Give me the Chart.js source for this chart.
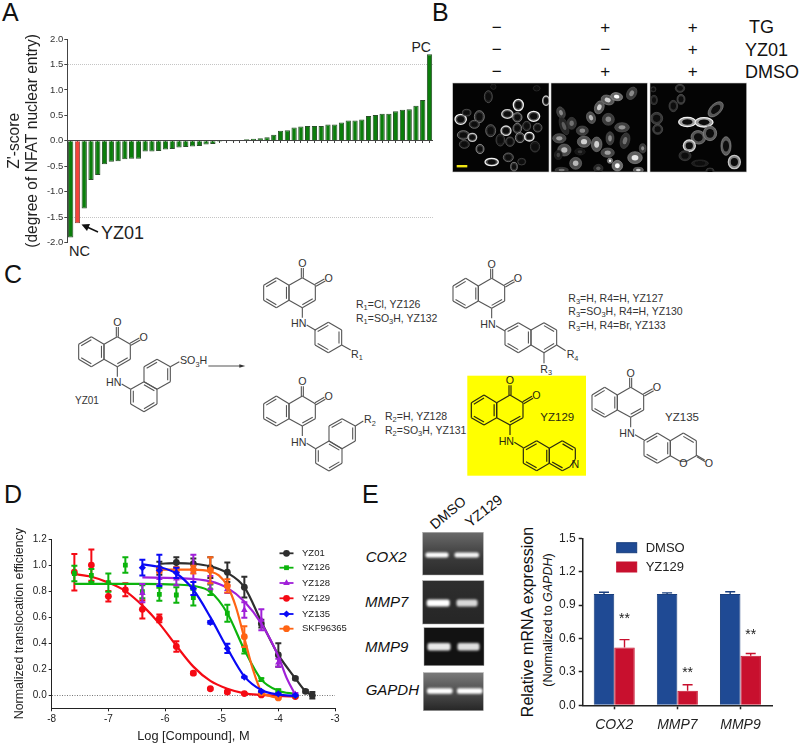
<!DOCTYPE html>
<html>
<head>
<meta charset="utf-8">
<style>
  body { margin: 0; background: #fff; overflow: hidden; }
  #page { position: relative; width: 800px; height: 744px; }
  #art { position: absolute; left: 0; top: 0; }
  canvas { position: absolute; }
</style>
<script src="https://cdn.jsdelivr.net/npm/chart.js@4"></script>
</head>
<body>
<div id="page">
  <svg id="art" width="800" height="744" font-family="Liberation Sans"></svg>
  <canvas id="chartA" width="440" height="222" style="left:0;top:30px"></canvas>
  <canvas id="chartD" width="355" height="224" style="left:0;top:520px"></canvas>
  <canvas id="chartE" width="270" height="219" style="left:520px;top:525px"></canvas>
</div>
<script>
// Panel A: screening z-scores, sorted
const screenValues = [-1.9, -1.62, -1.33, -0.77, -0.67, -0.46, -0.41, -0.4, -0.36, -0.35, -0.35, -0.21, -0.21, -0.2,
  -0.17, -0.16, -0.13, -0.12, -0.11, -0.1, -0.07, -0.06, -0.02, -0.01, -0.005, 0.01, 0.03, 0.04, 0.05, 0.07, 0.12,
  0.2, 0.21, 0.26, 0.28, 0.29, 0.29, 0.29, 0.32, 0.32, 0.36, 0.4, 0.4, 0.42, 0.49, 0.51, 0.53, 0.53, 0.58, 0.61,
  0.62, 0.69, 0.8, 1.7];
const screenTicks = [-2, -1.5, -1, -0.5, 0, 0.5, 1, 1.5, 2];
const screenLimits = [-1.5, 1.5];
const screenHighlight = 1; // YZ01

// Panel D: dose response, measured points
const yz01Dose = [-6.1, -5.8, -5.5, -5.2, -4.9, -4.6, -4.3, -4, -3.7, -3.52, -3.4];
const yz01Val = [0.975, 1.02, 1.01, 0.98, 0.945, 0.83, 0.55, 0.31, 0.13, 0.03, 0];
const yz01Err = [0.05, 0.04, 0.04, 0.08, 0.075, 0.08, 0.03, 0.09, 0.01, 0.01, 0.025];
const yz126Dose = [-7.6, -7.3, -7, -6.7, -6.4, -6.1, -5.8, -5.5, -5.2, -4.9, -4.6, -4.3, -4, -3.7];
const yz126Val = [0.935, 0.92, 0.865, 1, 0.795, 0.775, 0.77, 0.75, 0.81, 0.63, 0.35, 0.12, 0.035, 0];
const yz126Err = [0.06, 0.05, 0.07, 0.06, 0.05, 0.05, 0.06, 0.06, 0.04, 0.065, 0.03, 0.01, 0.01, 0.005];
const yz128Dose = [-6.4, -6.1, -5.8, -5.5, -5.2, -4.9, -4.6, -4.3, -4, -3.7];
const yz128Val = [0.785, 0.9, 0.895, 0.95, 0.865, 0.815, 0.655, 0.58, 0.25, 0.008];
const yz128Err = [0.07, 0.05, 0.05, 0.13, 0.05, 0.03, 0.06, 0.08, 0.03, 0.01];
const yz129Dose = [-7.6, -7.3, -7, -6.7, -6.4, -6.1, -5.8, -5.5, -5.2, -4.9, -4.6, -4.3, -4, -3.7];
const yz129Val = [0.945, 1, 0.76, 0.81, 0.66, 0.59, 0.375, 0.17, 0.05, 0.025, 0.013, 0.003, -0.005, -0.01];
const yz129Err = [0.14, 0.12, 0.04, 0.05, 0.07, 0.03, 0.04, 0.01, 0.005, 0.01, 0.005, 0.005, 0.005, 0.005];
const yz135Dose = [-6.4, -6.1, -5.8, -5.5, -5.2, -4.9, -4.6, -4.3, -4, -3.7];
const yz135Val = [0.98, 0.96, 0.94, 0.82, 0.56, 0.36, 0.14, 0.03, 0.01, 0];
const yz135Err = [0.06, 0.12, 0.04, 0.05, 0.01, 0.035, 0.005, 0.005, 0.005, 0.005];
const skfDose = [-6.1, -5.8, -5.5, -5.2, -4.9, -4.6, -4.3, -4];
const skfVal = [0.96, 0.965, 0.965, 0.96, 0.84, 0.45, 0.02, -0.02];
const skfErr = [0.02, 0.02, 0.03, 0.1, 0.05, 0.08, 0.01, 0.005];

// Panel D: fitted curves
const yz01FitDose = [-6.1, -5.8, -5.5, -5.2, -4.9, -4.6, -4.3, -4.1, -4, -3.7, -3.52, -3.4];
const yz01Fit = [1.01, 1.015, 1.01, 0.99, 0.94, 0.83, 0.565, 0.39, 0.31, 0.13, 0.03, 0];
const yz126FitDose = [-7.6, -7, -6.4, -5.8, -5.5, -5.2, -4.9, -4.6, -4.3, -4, -3.7];
const yz126Fit = [0.855, 0.855, 0.855, 0.85, 0.84, 0.795, 0.63, 0.35, 0.12, 0.035, 0.01];
const yz128FitDose = [-6.4, -5.8, -5.2, -4.9, -4.6, -4.3, -4, -3.85, -3.7];
const yz128Fit = [0.905, 0.9, 0.875, 0.825, 0.72, 0.55, 0.3, 0.13, 0.005];
const yz129FitDose = [-7.6, -7.3, -7, -6.7, -6.4, -6.1, -5.8, -5.5, -5.2, -4.9, -4.6, -4.3, -4, -3.7];
const yz129Fit = [0.93, 0.91, 0.865, 0.8, 0.69, 0.55, 0.38, 0.22, 0.11, 0.05, 0.015, 0.003, -0.005, -0.01];
const yz135FitDose = [-6.4, -6.1, -5.8, -5.5, -5.2, -4.9, -4.6, -4.3, -4, -3.7];
const yz135Fit = [1.005, 0.985, 0.935, 0.81, 0.6, 0.36, 0.145, 0.04, 0.005, -0.005];
const skfFitDose = [-6.1, -5.5, -5.2, -5.05, -4.9, -4.75, -4.6, -4.45, -4.3, -4.15, -4];
const skfFit = [0.965, 0.965, 0.95, 0.92, 0.84, 0.68, 0.44, 0.2, 0.03, -0.005, -0.02];
const doseTicks = [-8, -7, -6, -5, -4, -3];
const effectTicks = [0, 0.2, 0.4, 0.6, 0.8, 1, 1.2];

// Panel E: mRNA expression
const genes = ['COX2', 'MMP7', 'MMP9'];
const dmsoExpr = [1, 1, 1];
const dmsoExprErr = [0.015, 0.01, 0.02];
const yz129Expr = [0.52, 0.13, 0.445];
const yz129ExprErr = [0.07, 0.055, 0.02];
const starHeights = [0.79, 0.31, 0.65];
const exprTicks = [0, 0.3, 0.6, 0.9, 1.2, 1.5];

Chart.defaults.font.family = 'Liberation Sans';
Chart.defaults.animation = false;

// fixes the axis box so the plot area lands where the reference has it
function fitAxis(size) {
  return (s) => {
    if (s.isHorizontal()) s.height = size; else s.width = size;
    s.paddingLeft = s.paddingRight = s.paddingTop = s.paddingBottom = 0;
  };
}
function setTicks(values) {
  return (s) => { s.ticks = values.map((value) => ({ value })); };
}

// error bars, drawn just under their own dataset
const errorBars = {
  id: 'errorBars',
  beforeDatasetDraw(chart, args) {
    const ds = chart.data.datasets[args.index];
    if (!ds.errs) return;
    const y = chart.scales.y, c = chart.ctx;
    c.save();
    c.strokeStyle = ds.errColor;
    c.lineWidth = ds.errWidth;
    args.meta.data.forEach((el, i) => {
      const val = ds.data[i];
      const v = typeof val === 'object' ? val.y : val;
      const top = y.getPixelForValue(v + ds.errs[i]);
      const low = ds.topOnly ? y.getPixelForValue(v) : y.getPixelForValue(v - ds.errs[i]);
      c.beginPath();
      c.moveTo(el.x, top); c.lineTo(el.x, low);
      c.moveTo(el.x - ds.capSize, top); c.lineTo(el.x + ds.capSize, top);
      if (!ds.topOnly) { c.moveTo(el.x - ds.capSize, low); c.lineTo(el.x + ds.capSize, low); }
      c.stroke();
    });
    c.restore();
  }
};

// Panel A
new Chart(document.getElementById('chartA'), {
  type: 'bar',
  data: {
    labels: screenValues.map((v, i) => i + 1),
    datasets: [{
      data: screenValues,
      backgroundColor: screenValues.map((v, i) => (i === screenHighlight ? '#f2453a' : '#0b7d0b')),
      borderColor: screenValues.map((v, i) => (i === screenHighlight ? '#8a4a44' : '#2a4f2a')),
      borderWidth: 1,
      categoryPercentage: 0.78,
      barPercentage: 1
    }]
  },
  options: {
    responsive: false,
    layout: { padding: { left: 5, top: 9, right: 7.1, bottom: 9.3 } },
    plugins: { legend: { display: false }, tooltip: { enabled: false } },
    scales: {
      x: {
        position: { y: 0 },
        ticks: { display: false },
        grid: { drawOnChartArea: false, offset: false, tickLength: 2, tickColor: '#444' },
        border: { color: '#444', width: 1 },
        afterFit: fitAxis(0)
      },
      y: {
        min: -2, max: 2,
        afterBuildTicks: setTicks(screenTicks),
        afterFit: fitAxis(62.3),
        ticks: { color: '#333', font: { size: 9.5 }, padding: 1, callback: (v) => v.toFixed(1) },
        grid: {
          color: (ctx) => (screenLimits.includes(ctx.tick && ctx.tick.value) ? '#c4c4c4' : 'transparent'),
          tickColor: '#444', tickLength: 3
        },
        border: { color: '#444', width: 1, dash: [1, 1] },
        title: {
          display: true,
          text: ["Z'-score", '(degree of NFAT nuclear entry)'],
          color: '#222', font: { size: 15.6, lineHeight: 1.18 }, padding: 0
        }
      }
    }
  }
});

// Panel D
const doseSeries = [
  { label: 'YZ135', dose: yz135Dose, val: yz135Val, err: yz135Err, fitDose: yz135FitDose, fit: yz135Fit, color: '#0a0af5', marker: 'rectRot', size: 3.6, row: 4 },
  { label: 'SKF96365', dose: skfDose, val: skfVal, err: skfErr, fitDose: skfFitDose, fit: skfFit, color: '#ff6414', marker: 'circle', size: 3.4, row: 5 },
  { label: 'YZ128', dose: yz128Dose, val: yz128Val, err: yz128Err, fitDose: yz128FitDose, fit: yz128Fit, color: '#a020d8', marker: 'triangle', size: 3.8, row: 2 },
  { label: 'YZ126', dose: yz126Dose, val: yz126Val, err: yz126Err, fitDose: yz126FitDose, fit: yz126Fit, color: '#0cb40c', marker: 'rect', size: 3.4, row: 1 },
  { label: 'YZ129', dose: yz129Dose, val: yz129Val, err: yz129Err, fitDose: yz129FitDose, fit: yz129Fit, color: '#f50a14', marker: 'circle', size: 3.4, row: 3 },
  { label: 'YZ01', dose: yz01Dose, val: yz01Val, err: yz01Err, fitDose: yz01FitDose, fit: yz01Fit, color: '#2e2e2e', marker: 'circle', size: 3.4, row: 0 }
];
const doseDatasets = [];
doseSeries.forEach((s) => {
  doseDatasets.push({
    label: s.label + ' fit',
    data: s.fitDose.map((x, i) => ({ x, y: s.fit[i] })),
    showLine: true,
    cubicInterpolationMode: 'monotone',
    borderColor: s.color, borderWidth: 2.2, pointRadius: 0
  });
  doseDatasets.push({
    label: s.label,
    data: s.dose.map((x, i) => ({ x, y: s.val[i] })),
    showLine: false,
    pointStyle: s.marker, pointRadius: s.size,
    backgroundColor: s.color, borderColor: s.color, borderWidth: 0,
    errs: s.err, errColor: s.color, errWidth: 2, capSize: 3
  });
});

const doseLegend = {
  id: 'doseLegend',
  afterDraw(chart) {
    const c = chart.ctx;
    const rows = [553.3, 567.7, 583, 598.3, 614, 628.7];
    doseSeries.forEach((s) => {
      const y = rows[s.row] - 520;
      c.save();
      c.strokeStyle = s.color; c.lineWidth = 1.8;
      c.beginPath(); c.moveTo(279.5, y); c.lineTo(293.5, y); c.stroke();
      c.fillStyle = s.color; c.strokeStyle = s.color;
      Chart.helpers.drawPoint(c, { pointStyle: s.marker, radius: s.size, rotation: 0, borderWidth: 0 }, 286.5, y);
      c.fillStyle = '#222'; c.font = '9.5px "Liberation Sans"'; c.textBaseline = 'middle';
      c.fillText(s.label, 302, y);
      c.restore();
    });
  }
};

new Chart(document.getElementById('chartD'), {
  type: 'scatter',
  data: { datasets: doseDatasets },
  plugins: [errorBars, doseLegend],
  options: {
    responsive: false,
    layout: { padding: { left: 12, top: 19, right: 20, bottom: 0 } },
    plugins: { legend: { display: false }, tooltip: { enabled: false } },
    scales: {
      x: {
        type: 'linear', min: -8, max: -3,
        afterBuildTicks: setTicks(doseTicks),
        afterFit: fitAxis(35.7),
        ticks: { color: '#222', font: { size: 10 }, padding: 2, maxRotation: 0 },
        grid: { drawOnChartArea: false, tickColor: '#222', tickLength: 3 },
        border: { color: '#222', width: 1 },
        title: { display: true, text: 'Log [Compound], M', color: '#222', font: { size: 12.8 }, padding: { top: 2, bottom: 0 } }
      },
      y: {
        min: -0.1, max: 1.2,
        afterBuildTicks: setTicks(effectTicks),
        afterFit: fitAxis(39.7),
        ticks: { color: '#222', font: { size: 10 }, padding: 2, callback: (v) => v.toFixed(1) },
        grid: {
          color: (ctx) => (ctx.tick && ctx.tick.value === 0 ? '#777' : 'transparent'),
          tickColor: '#222', tickLength: 3
        },
        border: { color: '#222', width: 1, dash: [1, 1.5] },
        title: { display: true, text: 'Normalized translocation efficiency', color: '#222', font: { size: 12.4 }, padding: 0 }
      }
    }
  }
});

// Panel E
const exprExtras = {
  id: 'exprExtras',
  afterDraw(chart) {
    const c = chart.ctx;
    const bars = chart.getDatasetMeta(1).data;
    c.save();
    c.fillStyle = '#222'; c.font = '14px "Liberation Sans"'; c.textAlign = 'center'; c.textBaseline = 'middle';
    starHeights.forEach((h, i) => c.fillText('**', bars[i].x, chart.scales.y.getPixelForValue(h) + 2));
    c.textAlign = 'left';
    c.font = '13px "Liberation Sans"';
    chart.data.datasets.forEach((ds, i) => {
      const y = 17.7 + i * 19.3;
      c.fillStyle = ds.backgroundColor;
      c.strokeStyle = ds.borderColor;
      c.lineWidth = 1;
      c.fillRect(96.7, y, 20, 10);
      c.strokeRect(96.7, y, 20, 10);
      c.fillStyle = '#222';
      c.fillText(ds.label, 125.7, y + 5.5);
    });
    c.restore();
  }
};

new Chart(document.getElementById('chartE'), {
  type: 'bar',
  data: {
    labels: genes,
    datasets: [
      { label: 'DMSO', data: dmsoExpr, backgroundColor: '#1f4a94', borderColor: '#1a3f7e', borderWidth: 1,
        categoryPercentage: 0.65, barPercentage: 1,
        errs: dmsoExprErr, errColor: '#1a3f7e', errWidth: 1.4, capSize: 5, topOnly: true },
      { label: 'YZ129', data: yz129Expr, backgroundColor: '#c8102e', borderColor: '#c8102e', borderWidth: 1,
        categoryPercentage: 0.65, barPercentage: 1,
        errs: yz129ExprErr, errColor: '#c8102e', errWidth: 1.4, capSize: 5, topOnly: true }
    ]
  },
  plugins: [errorBars, exprExtras],
  options: {
    responsive: false,
    layout: { padding: { left: 0, top: 13.3, right: 18, bottom: 0 } },
    plugins: { legend: { display: false }, tooltip: { enabled: false } },
    scales: {
      x: {
        afterFit: fitAxis(38.7),
        ticks: { color: '#222', font: { size: 14, style: 'italic' }, padding: 7, maxRotation: 0 },
        grid: { drawOnChartArea: false, offset: false, tickColor: '#222', tickLength: 4, tickWidth: 1.5 },
        border: { color: '#222', width: 1.5 }
      },
      y: {
        min: 0, max: 1.5,
        afterBuildTicks: setTicks(exprTicks),
        afterFit: fitAxis(62.7),
        ticks: { color: '#222', font: { size: 12 }, padding: 3, callback: (v) => v.toFixed(1) },
        grid: { drawOnChartArea: false, tickColor: '#222', tickLength: 4, tickWidth: 1.5 },
        border: { color: '#222', width: 1.5 }
      }
    }
  }
});

// ---- everything that is not a chart: panel letters, micrographs, structures, gels ----
let art = '';
function text(str, x, y, size, opts = {}) {
  const anchor = opts.anchor || 'start';
  const rot = opts.rot ? ` transform="rotate(${opts.rot} ${x} ${y})"` : '';
  art += `<text x="${x}" y="${y}" font-size="${size}" fill="${opts.color || '#222'}" text-anchor="${anchor}"` +
    `${opts.italic ? ' font-style="italic"' : ''}${rot}>${str}</text>`;
}

art += `<defs>
  <filter id="soft" x="-30%" y="-80%" width="160%" height="260%"><feGaussianBlur stdDeviation="1.1"/></filter>
  <filter id="softer"><feGaussianBlur stdDeviation="0.45"/></filter>
  <linearGradient id="gelLight" x1="0" y1="0" x2="0" y2="1"><stop offset="0" stop-color="#6a6a6a"/><stop offset="0.6" stop-color="#3a3a3a"/><stop offset="1" stop-color="#2c2c2c"/></linearGradient>
  <linearGradient id="gelMid" x1="0" y1="0" x2="0" y2="1"><stop offset="0" stop-color="#2e2e2e"/><stop offset="1" stop-color="#262626"/></linearGradient>
  <linearGradient id="gelTop" x1="0" y1="0" x2="0" y2="1"><stop offset="0" stop-color="#7a7a7a"/><stop offset="0.55" stop-color="#4a4a4a"/><stop offset="1" stop-color="#262626"/></linearGradient>
</defs>`;

// panel letters
[['A', 2, 21], ['B', 432, 21], ['C', 4, 283], ['D', 4, 503], ['E', 362, 503]].forEach(([l, x, y]) => text(l, x, y, 25, { color: '#111' }));

// panel A annotations
text('PC', 411.5, 52, 14);
text('NC', 69, 256, 14.5);
text('YZ01', 101, 239, 18);
art += `<line x1="98" y1="232" x2="86" y2="226.5" stroke="#111" stroke-width="1.4"/>
  <polygon points="81.5,224.5 90,224 87,231" fill="#111"/>`;

// panel B: +/- table
const signCols = [496.7, 605.3, 692.7];
const signRows = [
  ['\u2212', '+', '+'],
  ['\u2212', '\u2212', '+'],
  ['\u2212', '+', '+']
];
const signRowY = [33, 55, 77];
signRows.forEach((row, r) => row.forEach((s, c) => text(s, signCols[c], signRowY[r], 17, { anchor: 'middle', color: '#111' })));
text('TG', 749, 33, 18, { color: '#111' });
text('YZ01', 745, 55.5, 18, { color: '#111' });
text('DMSO', 745, 77.5, 18, { color: '#111' });

// panel B: micrographs, cell sketches in 3x crop units
function micrograph(x, y, w, h, cells, style) {
  const id = 'clip' + Math.round(x);
  art += `<clipPath id="${id}"><rect x="${x}" y="${y}" width="${w}" height="${h}"/></clipPath>`;
  art += `<rect x="${x}" y="${y}" width="${w}" height="${h}" fill="#040404" stroke="#ccc" stroke-width="0.6"/>`;
  art += `<g clip-path="url(#${id})" filter="url(#softer)">`;
  cells.forEach(([cx, cy, rx, ry, b, rot]) => {
    const g = Math.round(20 + 235 * b);
    const px = cx / 3 + 430, py = cy / 3;
    const tt = `transform="rotate(${rot || 0} ${px} ${py})"`;
    const grey = (k) => { const n = Math.round(g * k); return `rgb(${n},${n},${n})`; };
    if (style === 'nuclei') {
      art += `<ellipse cx="${px}" cy="${py}" rx="${rx / 3}" ry="${ry / 3}" fill="${grey(0.42)}" stroke="${grey(0.6)}" stroke-width="0.6" ${tt}/>`;
      art += `<ellipse cx="${px}" cy="${py}" rx="${rx / 6.5}" ry="${ry / 6.5}" fill="${grey(1)}" ${tt}/>`;
    } else {
      const bodyK = style === 'body' ? 0.62 : 0.3;
      art += `<ellipse cx="${px}" cy="${py}" rx="${rx / 3}" ry="${ry / 3}" fill="${grey(bodyK)}" stroke="${grey(0.95)}" stroke-width="${b > 0.7 ? 1.3 : 0.7}" ${tt}/>`;
      art += `<ellipse cx="${px}" cy="${py}" rx="${rx / 5}" ry="${ry / 5}" fill="#0a0a0a" ${tt}/>`;
    }
  });
  art += '</g>';
}
micrograph(452.7, 83, 96.3, 89, [
  [92, 358, 17, 15, 1], [148, 350, 15, 18, 0.6], [110, 338, 13, 10, 0.35], [133, 373, 15, 12, 0.5], [100, 405, 18, 13, 0.6],
  [127, 412, 13, 12, 0.8], [150, 447, 12, 14, 0.7], [103, 433, 15, 12, 0.35], [182, 392, 15, 18, 0.5], [175, 290, 12, 18, 0.35],
  [228, 392, 15, 14, 0.9], [232, 342, 17, 13, 0.85], [265, 315, 15, 17, 1], [262, 352, 14, 14, 0.7], [311, 349, 18, 15, 1],
  [262, 385, 13, 15, 0.6], [290, 378, 12, 14, 0.35], [323, 383, 13, 13, 0.45], [270, 413, 14, 15, 0.7], [298, 410, 14, 13, 1],
  [240, 425, 13, 14, 0.4], [211, 420, 13, 18, 0.3], [235, 472, 15, 13, 0.5], [185, 486, 20, 11, 1], [252, 500, 10, 13, 0.6],
  [275, 485, 12, 10, 0.25], [315, 440, 14, 16, 0.25], [348, 302, 10, 14, 0.8], [320, 265, 10, 8, 0.12], [190, 260, 8, 8, 0.1]
]);
micrograph(551, 83, 96.3, 89, [
  [393, 338, 12, 18, 0.5, -20], [425, 370, 14, 18, 0.4], [402, 378, 12, 28, 0.3, -20], [388, 415, 20, 14, 0.6], [457, 392, 18, 14, 0.5],
  [483, 353, 13, 18, 0.7, -20], [508, 322, 14, 20, 0.8, 20], [533, 300, 20, 14, 0.8, 20], [560, 290, 18, 12, 1, 10], [605, 280, 14, 20, 0.5, 30],
  [535, 358, 18, 18, 0.5], [576, 382, 22, 14, 0.55], [462, 425, 20, 17, 0.8], [500, 433, 16, 22, 0.8], [540, 415, 12, 20, 0.5],
  [585, 422, 14, 24, 0.4, 15], [403, 450, 20, 18, 0.7], [437, 490, 18, 18, 0.7], [533, 458, 20, 14, 0.6], [562, 497, 16, 16, 1],
  [540, 482, 8, 8, 1], [615, 473, 22, 18, 0.9], [625, 510, 15, 8, 0.8], [638, 445, 10, 14, 0.5], [395, 510, 20, 8, 0.4],
  [505, 505, 14, 12, 0.3], [450, 455, 16, 10, 0.15], [385, 465, 12, 14, 0.2]
], 'nuclei');
micrograph(650, 83, 96.7, 89, [
  [680, 355, 18, 18, 0.3], [683, 388, 15, 15, 0.3], [730, 318, 13, 17, 0.25], [750, 265, 14, 12, 0.25], [753, 298, 12, 15, 0.3],
  [672, 300, 10, 14, 0.2], [670, 268, 8, 8, 0.15], [772, 366, 26, 14, 1], [822, 367, 27, 14, 1], [805, 412, 22, 20, 0.5, 20],
  [840, 400, 20, 22, 0.55], [857, 328, 16, 28, 0.5, 45], [778, 437, 18, 17, 0.9], [888, 438, 15, 28, 0.55], [913, 486, 18, 20, 0.8],
  [765, 467, 18, 15, 0.2], [810, 490, 25, 10, 0.12], [840, 512, 12, 8, 0.2]
], 'body');
art += '<rect x="456.7" y="165" width="10.6" height="2.4" fill="#f0e614"/>';

// panel C: yellow box first, then the structures
art += '<rect x="467.3" y="375.7" width="118.7" height="100" fill="#ffff00"/>';

// structures use 3x crop units, origin at y=230
let mol = '';
function bond(x1, y1, x2, y2) { mol += `<line x1="${x1}" y1="${y1}" x2="${x2}" y2="${y2}"/>`; }
function ring(pts, dx, dy, doubles) {
  const cx = pts.reduce((a, p) => a + p[0], 0) / pts.length;
  const cy = pts.reduce((a, p) => a + p[1], 0) / pts.length;
  pts.forEach((p, i) => {
    const q = pts[(i + 1) % pts.length];
    bond(p[0] + dx, p[1] + dy, q[0] + dx, q[1] + dy);
    if (doubles.includes(i)) {
      const f = 0.2;
      bond(p[0] + (cx - p[0]) * f + dx, p[1] + (cy - p[1]) * f + dy, q[0] + (cx - q[0]) * f + dx, q[1] + (cy - q[1]) * f + dy);
    }
  });
}
function label(s, x, y, anchor) {
  mol += `<text x="${x}" y="${y}" font-size="32" text-anchor="${anchor || 'middle'}" stroke="none">${s}</text>`;
}
// the ortho-naphthoquinone every compound shares, with its NH
function core(dx, dy) {
  ring([[274, 320], [312, 343], [312, 388], [274, 410], [236, 388], [236, 343]], dx, dy, [5, 3, 1]);
  ring([[312, 343], [352, 320], [391, 343], [391, 388], [352, 410], [312, 388]], dx, dy, [3]);
  bond(349 + dx, 320 + dy, 349 + dx, 291 + dy);
  bond(355 + dx, 320 + dy, 355 + dx, 291 + dy);
  bond(390 + dx, 340 + dy, 418 + dx, 324 + dy);
  bond(393 + dx, 346 + dy, 421 + dx, 330 + dy);
  label('O', 352 + dx, 288 + dy);
  label('O', 431 + dx, 332 + dy);
  bond(352 + dx, 410 + dy, 352 + dx, 440 + dy);
  label('HN', 341 + dx, 469 + dy);
  bond(365 + dx, 462 + dy, 392 + dx, 478 + dy);
}
const lowerRing = [[392, 478], [432, 455], [471, 478], [471, 522], [432, 545], [392, 522]];
const upperRing = [[432, 455], [432, 410], [471, 388], [511, 410], [511, 455], [471, 478]];

// YZ01
core(0, 0);
ring(lowerRing, 0, 0, [5, 3, 1]);
ring(upperRing, 0, 0, [1, 3]);
bond(511, 410, 538, 395);
mol += `<text x="540" y="403" font-size="32" stroke="none">SO<tspan dy="7" font-size="22">3</tspan><tspan dy="-7">H</tspan></text>`;
mol += '<line x1="625" y1="408" x2="725" y2="408"/><polygon points="736,408 718,403 718,413" fill="#333" stroke="none"/>';

// R1 phenyl
core(555, -177);
ring([[945, 300], [985, 277], [1025, 300], [1025, 345], [985, 368], [945, 345]], 0, 0, [0, 2, 4]);
bond(1025, 345, 1052, 360);
mol += `<text x="1053" y="384" font-size="32" stroke="none">R<tspan dy="7" font-size="22">1</tspan></text>`;

// R2 naphthyl
core(555, 178);
ring(lowerRing, 555, 178, [5, 3, 1]);
ring(upperRing, 555, 178, [1, 3]);
bond(1066, 588, 1090, 573);
mol += `<text x="1092" y="580" font-size="32" stroke="none">R<tspan dy="7" font-size="22">2</tspan></text>`;

// R3/R4 naphthyl, coordinates from the right-hand crop
core(1123, -175);
ring([[315, 300], [355, 278], [393, 300], [393, 345], [355, 368], [315, 345]], 1200, 0, [0, 2, 4]);
ring([[393, 300], [432, 278], [470, 300], [470, 345], [432, 368], [393, 345]], 1200, 0, [1, 3]);
bond(1670, 345, 1697, 362);
bond(1632, 368, 1632, 400);
mol += `<text x="1700" y="385" font-size="32" stroke="none">R<tspan dy="7" font-size="22">4</tspan></text>`;
mol += `<text x="1621" y="428" font-size="32" stroke="none">R<tspan dy="7" font-size="22">3</tspan></text>`;

// YZ135
core(1540, 152);
ring([[732, 632], [772, 609], [811, 632], [811, 677], [772, 700], [732, 677]], 1200, 0, [0, 2, 4]);
ring([[811, 632], [850, 609], [889, 632], [889, 677], [860, 694], [840, 694], [811, 677]], 1200, 0, [1]);
bond(2088, 675, 2114, 690);
bond(2091, 680, 2116, 695);
label('O', 2050, 711);
label('O', 2127, 711);

art += `<g transform="translate(0,230) scale(0.33333)" stroke="#555" stroke-width="3.3" fill="#333">${mol}</g>`;

// YZ129 sits on the yellow box and is a little darker
mol = '';
core(1178, 175);
ring([[370, 655], [410, 632], [448, 655], [448, 700], [410, 722], [370, 700]], 1200, 0, [0, 2, 4]);
ring([[448, 655], [487, 632], [526, 655], [526, 688], [510, 710], [487, 722], [448, 700]], 1200, 0, [1, 5]);
art += `<g transform="translate(0,230) scale(0.33333)" stroke="#2a2a10" stroke-width="3.6" fill="#2a2a10">${mol}` +
  `<text x="1726" y="714" font-size="32" text-anchor="middle" stroke="none">N</text></g>`;

// compound labels
const subLabel = (a, b, c) => `${a}<tspan dy="2" font-size="7.5">${b}</tspan><tspan dy="-2">${c}</tspan>`;
text('YZ01', 75, 404, 10, { color: '#333' });
text(subLabel('R', 1, '=Cl, YZ126'), 356, 308, 10.5, { color: '#333' });
text(subLabel('R', 1, '=SO') + subLabel('', 3, 'H, YZ132'), 356, 321.5, 10.5, { color: '#333' });
text(subLabel('R', 2, '=H, YZ128'), 385, 420, 10.5, { color: '#333' });
text(subLabel('R', 2, '=SO') + subLabel('', 3, 'H, YZ131'), 385, 433.5, 10.5, { color: '#333' });
text(subLabel('R', 3, '=H, R4=H, YZ127'), 568.3, 301.5, 10.5, { color: '#333' });
text(subLabel('R', 3, '=SO') + subLabel('', 3, 'H, R4=H, YZ130'), 568.3, 315, 10.5, { color: '#333' });
text(subLabel('R', 3, '=H, R4=Br, YZ133'), 568.3, 329, 10.5, { color: '#333' });
text('YZ129', 557.3, 420.7, 11.5, { anchor: 'middle', color: '#2a2a10' });
text('YZ135', 682, 420.7, 11.5, { anchor: 'middle', color: '#333' });

// panel E: gels
function gel(x, y, w, h, fill, bandY, bandH, bands) {
  art += `<rect x="${x}" y="${y}" width="${w}" height="${h}" fill="${fill}" stroke="#aaa" stroke-width="0.5"/>`;
  bands.forEach(([bx, bw, tone]) => {
    art += `<rect x="${bx}" y="${bandY - bandH / 2}" width="${bw}" height="${bandH}" rx="2" fill="${tone}" filter="url(#soft)"/>`;
  });
}
gel(422.7, 532.3, 60.6, 42.7, 'url(#gelLight)', 555, 5, [[425.5, 23, '#fff'], [454.5, 24.5, '#f6f6f6']]);
gel(422.7, 580.7, 61.3, 43.3, 'url(#gelMid)', 603, 7, [[426.7, 23, '#fff'], [456.5, 21, '#d8d8d8']]);
gel(424, 627.7, 60, 38, '#121212', 646.7, 7.5, [[427.5, 23, '#e8e8e8'], [457.5, 22, '#dedede']]);
gel(423.3, 672.7, 60, 38, 'url(#gelTop)', 691, 5.5, [[427, 25.5, '#fff'], [457, 25.5, '#fff']]);
text('COX2', 365.7, 562, 15, { italic: true, color: '#111' });
text('MMP7', 365, 607, 15, { italic: true, color: '#111' });
text('MMP9', 365, 652, 15, { italic: true, color: '#111' });
text('GAPDH', 365.7, 694.5, 15, { italic: true, color: '#111' });
text('DMSO', 435, 530, 14, { rot: -40, color: '#111' });
text('YZ129', 470, 528, 14.5, { rot: -38, color: '#111' });

// panel E: y titles, the second one has an italic gene name
text('Relative mRNA expression', 533, 622, 16, { anchor: 'middle', rot: -90, color: '#111' });
art += `<text x="552" y="620" font-size="12.5" text-anchor="middle" fill="#111" transform="rotate(-90 552 620)">(Normalized to <tspan font-style="italic">GAPDH</tspan>)</text>`;

document.getElementById('art').innerHTML = art;
</script>
</body>
</html>
